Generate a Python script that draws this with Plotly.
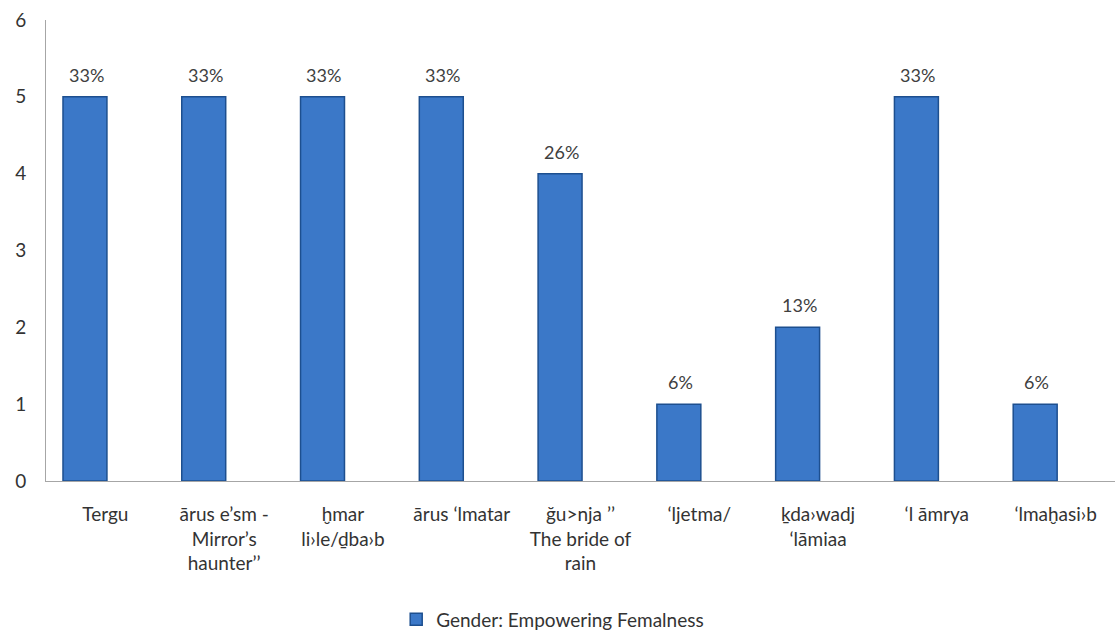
import plotly.graph_objects as go

categories = [
    "Tergu",
    "ārus e’sm -<br>Mirror’s<br>haunter’’",
    "ḫmar<br>li›le/ḏba›b",
    "ārus ‘lmatar",
    "ğu>nja ’’<br>The bride of<br>rain",
    "‘ljetma/",
    "ḵda›wadj<br>‘lāmiaa",
    "‘l āmrya",
    "‘lmaḫasi›b",
]
values = [5, 5, 5, 5, 4, 1, 2, 5, 1]
pct_labels = ["33%", "33%", "33%", "33%", "26%", "6%", "13%", "33%", "6%"]
series_name = "Gender: Empowering Femalness"
y_ticks = [0, 1, 2, 3, 4, 5, 6]

fig = go.Figure()
fig.add_trace(go.Bar(
    x=categories,
    y=values,
    name=series_name,
    width=0.37,
    offset=-0.357,
    marker=dict(color="#3b78c8", line=dict(color="#1d4f8f", width=1.5)),
    showlegend=True,
))

for c, v, t in zip(categories, values, pct_labels):
    fig.add_annotation(
        x=c, y=v, text=t, showarrow=False,
        xshift=-19, yshift=22, yanchor="middle",
        font=dict(family="Lato, sans-serif", size=18, color="#404040"),
    )

fig.update_layout(
    width=1115,
    height=644,
    margin=dict(l=46, r=0, t=20, b=163),
    paper_bgcolor="white",
    plot_bgcolor="white",
    font=dict(family="Lato, sans-serif", size=19, color="#333333"),
    bargap=0.63,
    showlegend=True,
    legend=dict(
        orientation="h",
        x=0.474, xanchor="center",
        y=-0.30, yanchor="middle",
        font=dict(size=19, color="#333333"),
    ),
    xaxis=dict(
        type="category",
        showline=True,
        linecolor="#a6a6a6",
        linewidth=1,
        showgrid=False,
        ticks="",
        ticklabelstandoff=16,
        tickfont=dict(size=19, color="#333333"),
        tickangle=0,
    ),
    yaxis=dict(
        range=[0, 6],
        tickvals=y_ticks,
        showline=True,
        linecolor="#a6a6a6",
        linewidth=1,
        showgrid=False,
        zeroline=False,
        ticks="",
        ticklabelstandoff=15,
        tickfont=dict(size=19, color="#333333"),
    ),
)

fig.write_html("out.html")
